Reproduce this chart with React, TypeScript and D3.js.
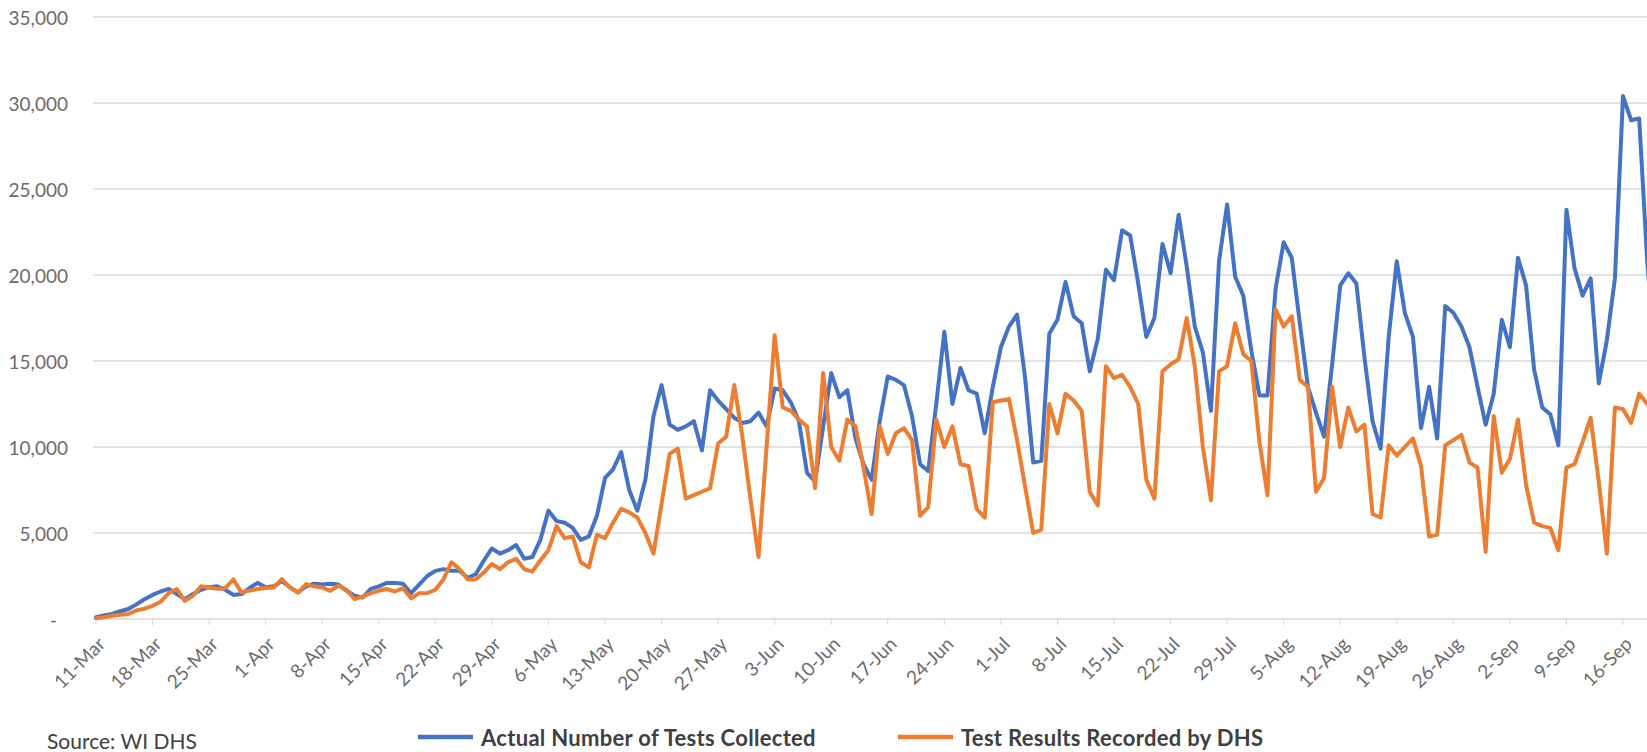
import * as d3 from "d3";

// x axis labels, one every 7 days starting 11-Mar
const tickLabels = [
  "11-Mar", "18-Mar", "25-Mar", "1-Apr", "8-Apr", "15-Apr", "22-Apr",
  "29-Apr", "6-May", "13-May", "20-May", "27-May", "3-Jun", "10-Jun",
  "17-Jun", "24-Jun", "1-Jul", "8-Jul", "15-Jul", "22-Jul", "29-Jul",
  "5-Aug", "12-Aug", "19-Aug", "26-Aug", "2-Sep", "9-Sep", "16-Sep",
];

const yTicks = [0, 5000, 10000, 15000, 20000, 25000, 30000, 35000];

const seriesNames = ["Actual Number of Tests Collected", "Test Results Recorded by DHS"];
const seriesColors = ["#4472C4", "#ED7D31"];

// daily values from 11-Mar
const testsCollected = [
  100, 200, 300, 450, 580, 850, 1150, 1400, 1600, 1750,
  1450, 1150, 1450, 1700, 1850, 1900, 1700, 1400, 1450, 1800,
  2100, 1850, 1900, 2200, 1850, 1550, 1900, 2050, 2000, 2050,
  2000, 1650, 1350, 1250, 1750, 1900, 2100, 2100, 2050, 1500,
  2000, 2500, 2800, 2900, 2800, 2800, 2400, 2600, 3400, 4100,
  3800, 4000, 4300, 3500, 3600, 4600, 6300, 5700, 5600, 5300,
  4600, 4800, 6000, 8200, 8700, 9700, 7500, 6300, 8100, 11800,
  13600, 11300, 11000, 11200, 11500, 9800, 13300, 12700, 12200, 11700,
  11400, 11500, 12000, 11200, 13400, 13300, 12600, 11500, 8500, 8000,
  11200, 14300, 12900, 13300, 10500, 9000, 8100, 11500, 14100, 13900,
  13600, 11800, 9000, 8600, 12500, 16700, 12500, 14600, 13300, 13100,
  10800, 13500, 15800, 17000, 17700, 14000, 9100, 9200, 16600, 17400,
  19600, 17600, 17200, 14400, 16300, 20300, 19700, 22600, 22300, 19500,
  16400, 17500, 21800, 20100, 23500, 20500, 17000, 15500, 12100, 20800,
  24100, 19900, 18800, 15600, 13000, 13000, 19200, 21900, 21000, 17200,
  13500, 12000, 10600, 14800, 19400, 20100, 19500, 15200, 11500, 9900,
  16400, 20800, 17800, 16400, 11100, 13500, 10500, 18200, 17800, 17000,
  15800, 13500, 11300, 13100, 17400, 15800, 21000, 19400, 14500, 12300,
  11900, 10100, 23800, 20400, 18800, 19800, 13700, 16200, 19800, 30400,
  29000, 29100, 20800, 15000,
];

const resultsRecorded = [
  50, 100, 190, 250, 290, 500, 600, 770, 1000, 1500,
  1740, 1060, 1350, 1900, 1830, 1750, 1800, 2300, 1550, 1650,
  1740, 1800, 1830, 2320, 1830, 1540, 2030, 1900, 1830, 1640,
  1930, 1700, 1160, 1300, 1500, 1640, 1740, 1600, 1800, 1200,
  1500, 1500, 1700, 2300, 3300, 2900, 2300, 2300, 2700, 3200,
  2900, 3300, 3500, 2900, 2750, 3400, 4000, 5400, 4700, 4800,
  3300, 3000, 4900, 4700, 5600, 6400, 6200, 5900, 5000, 3800,
  6700, 9600, 9900, 7000, 7200, 7400, 7600, 10200, 10600, 13600,
  10600, 7000, 3600, 10000, 16500, 12300, 12100, 11600, 11200, 7600,
  14300, 10000, 9200, 11600, 11200, 8800, 6100, 11200, 9600, 10800,
  11100, 10400, 6000, 6500, 11600, 10000, 11200, 9000, 8900, 6400,
  5900, 12600, 12700, 12800, 10400, 7700, 5000, 5200, 12500, 10800,
  13100, 12700, 12100, 7400, 6600, 14700, 14000, 14200, 13500, 12500,
  8100, 7000, 14400, 14800, 15100, 17500, 14700, 10000, 6900, 14400,
  14700, 17200, 15400, 15000, 10300, 7200, 18000, 17000, 17600, 13900,
  13500, 7400, 8200, 13500, 10000, 12300, 10900, 11300, 6100, 5900,
  10100, 9500, 10000, 10500, 8900, 4800, 4900, 10100, 10400, 10700,
  9100, 8800, 3900, 11800, 8500, 9300, 11600, 7800, 5600, 5400,
  5300, 4000, 8800, 9000, 10300, 11700, 8000, 3800, 12300, 12200,
  11400, 13100, 12500, 12000,
];

const series = [testsCollected, resultsRecorded];

export default function App() {
  const width = 1647;
  const height = 752;
  const font = "Lato, 'Open Sans', sans-serif";

  const x = d3.scaleLinear().domain([0, 189]).range([96, 1623]);
  const y = d3.scaleLinear().domain([0, 35000]).range([619, 17]);

  const line = d3
    .line<number>()
    .x((_, i) => x(i))
    .y((d) => y(d));

  const fmt = d3.format(",");

  return (
    <svg
      width={width}
      height={height}
      style={{ position: "absolute", left: 0, top: 0, background: "#fff", overflow: "hidden" }}
    >
      {/* grid lines */}
      {yTicks.map((t) => (
        <line key={t} x1={93} x2={width} y1={y(t)} y2={y(t)} stroke="#d9d9d9" strokeWidth={1.6} />
      ))}

      {/* y labels */}
      {yTicks.map((t) => (
        <text
          key={"l" + t}
          x={t === 0 ? 57 : 68}
          y={y(t)}
          textAnchor="end"
          dominantBaseline="central"
          fontFamily={font}
          fontSize={19}
          fill="#6b6b6b"
        >
          {t === 0 ? "-" : fmt(t)}
        </text>
      ))}

      {/* x ticks and labels */}
      {tickLabels.map((lab, i) => (
        <g key={lab}>
          <line x1={x(i * 7)} x2={x(i * 7)} y1={619} y2={625} stroke="#d9d9d9" strokeWidth={1} />
          <text
            transform={`translate(${x(i * 7) + 5},${640}) rotate(-45)`}
            textAnchor="end"
            dominantBaseline="central"
            fontFamily={font}
            fontSize={19}
            fill="#6b6b6b"
          >
            {lab}
          </text>
        </g>
      ))}

      {/* series */}
      {series.map((s, k) => (
        <path
          key={k}
          d={line(s) ?? ""}
          fill="none"
          stroke={seriesColors[k]}
          strokeWidth={4}
          strokeLinejoin="round"
          strokeLinecap="round"
        />
      ))}

      {/* legend */}
      {seriesNames.map((name, k) => {
        const lx = k === 0 ? 418 : 898;
        return (
          <g key={name}>
            <line x1={lx} x2={lx + 55} y1={737} y2={737} stroke={seriesColors[k]} strokeWidth={4.5} />
            <text
              x={lx + 63}
              y={737}
              dominantBaseline="central"
              fontFamily={font}
              fontSize={22}
              letterSpacing={0.3}
              fontWeight="bold"
              fill="#404040"
            >
              {name}
            </text>
          </g>
        );
      })}

      {/* source note at the bottom left */}
      <text x={47} y={749} fontFamily={font} fontSize={21} fill="#404040">
        Source: WI DHS
      </text>
    </svg>
  );
}
